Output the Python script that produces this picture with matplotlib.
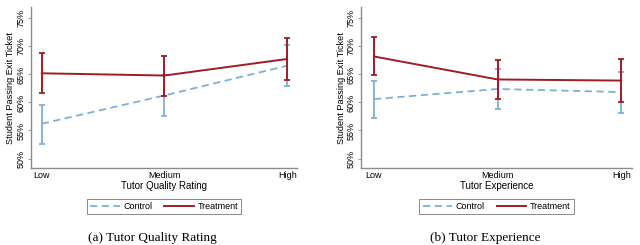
import matplotlib
matplotlib.use("Agg")
import matplotlib.pyplot as plt
from matplotlib.lines import Line2D
from matplotlib.ticker import FuncFormatter
from matplotlib.transforms import offset_copy

plt.rcParams["font.family"] = ["Liberation Sans", "DejaVu Sans"]

# Categorías del eje x
categorias = ["Low", "Medium", "High"]

# (a) Tutor Quality Rating
calidad_control = [56.2, 61.25, 66.55]
calidad_control_lo = [52.6, 57.6, 63.0]
calidad_control_hi = [59.6, 64.9, 70.2]
calidad_treat = [65.2, 64.8, 67.75]
calidad_treat_lo = [61.6, 61.2, 64.05]
calidad_treat_hi = [68.8, 68.3, 71.5]

# (b) Tutor Experience
exper_control = [60.6, 62.4, 61.85]
exper_control_lo = [57.2, 58.8, 58.2]
exper_control_hi = [63.9, 65.95, 65.35]
exper_treat = [68.2, 64.1, 63.9]
exper_treat_lo = [64.9, 60.7, 60.0]
exper_treat_hi = [71.7, 67.6, 67.75]

yticks = [50, 55, 60, 65, 70, 75]

C_CONTROL = "#7fb0d3"
C_TREAT = "#a01c22"
C_SPINE = "#8c8c8c"
LS_CONTROL = (0, (4, 2.5))


def panel(fig, ax, xlabel, caption, ctrl, clo, chi, trt, tlo, thi, xlim):
    x = list(range(len(categorias)))
    ax.errorbar(x, ctrl, yerr=[[c - l for c, l in zip(ctrl, clo)], [h - c for c, h in zip(ctrl, chi)]],
                color=C_CONTROL, ls=LS_CONTROL, lw=1.3, capsize=2.2, elinewidth=1.3,
                capthick=1.3, zorder=2)
    ax.errorbar(x, trt, yerr=[[c - l for c, l in zip(trt, tlo)], [h - c for c, h in zip(trt, thi)]],
                color=C_TREAT, ls="-", lw=1.4, capsize=2.2, elinewidth=1.4,
                capthick=1.3, zorder=3)
    ax.set_xlim(*xlim)
    ax.set_ylim(48.3, 77.0)
    ax.set_xticks(x)
    ax.set_xticklabels(categorias, fontsize=6.5)
    ax.set_yticks(yticks)
    ax.yaxis.set_major_formatter(FuncFormatter(lambda v, p: f"{v:.0f}%"))
    for lab in ax.get_yticklabels():
        lab.set_rotation(90)
        lab.set_va("center")
        lab.set_fontsize(6.5)
    ax.tick_params(axis="x", length=0, pad=2)
    ax.tick_params(axis="y", length=2.5, width=0.6, color=C_SPINE, pad=1.5)
    for s in ["top", "right"]:
        ax.spines[s].set_visible(False)
    for s in ["left", "bottom"]:
        ax.spines[s].set_color(C_SPINE)
        ax.spines[s].set_linewidth(1.0)
    ax.set_xlabel(xlabel, fontsize=7, labelpad=1)
    ax.set_ylabel("Student Passing Exit Ticket", fontsize=6.6, labelpad=0.5)
    handles = [Line2D([], [], color=C_CONTROL, ls=LS_CONTROL, lw=1.3),
               Line2D([], [], color=C_TREAT, ls="-", lw=1.4)]
    leg = ax.legend(handles, ["Control", "Treatment"], loc="upper center",
                    bbox_to_anchor=(0.5, -0.19), borderaxespad=0, ncol=2, fontsize=6.5,
                    frameon=True, fancybox=False, edgecolor="#555555", handlelength=3.3,
                    columnspacing=1.3, borderpad=0.35, handletextpad=0.4)
    leg.get_frame().set_linewidth(0.6)
    # el pie de cada panel queda algo a la izquierda del centro del eje
    tr = offset_copy(ax.transAxes, fig=fig, x=-11, y=0, units="dots")
    ax.text(0.5, -0.435, caption, transform=tr, ha="center", va="center",
            fontsize=9.5, family="Liberation Serif")


fig = plt.figure(figsize=(6.4, 2.45), dpi=100)
ax1 = fig.add_axes([0.048, 0.314, 0.416, 0.657])
ax2 = fig.add_axes([0.564, 0.314, 0.424, 0.657])

panel(fig, ax1, "Tutor Quality Rating", "(a) Tutor Quality Rating",
      calidad_control, calidad_control_lo, calidad_control_hi,
      calidad_treat, calidad_treat_lo, calidad_treat_hi, (-0.09, 2.08))
panel(fig, ax2, "Tutor Experience", "(b) Tutor Experience",
      exper_control, exper_control_lo, exper_control_hi,
      exper_treat, exper_treat_lo, exper_treat_hi, (-0.105, 2.09))

fig.savefig("out.png", dpi=100)
